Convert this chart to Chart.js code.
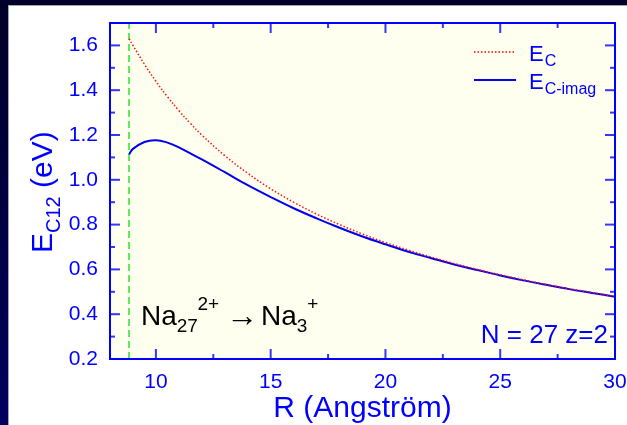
<!DOCTYPE html>
<html><head><meta charset="utf-8">
<script src="https://cdn.jsdelivr.net/npm/chart.js@4/dist/chart.umd.min.js"></script>
<style>html,body{margin:0;padding:0;background:#fff;overflow:hidden}</style>
</head><body>
<canvas id="c" width="627" height="425" style="display:block;width:627px;height:425px"></canvas>
<script>
// ---- data ----
const rValues      = [8.83, 9, 9.5, 10, 10.5, 11, 11.5, 12, 13, 14, 15, 16, 17, 18, 19, 20, 21, 22, 23, 24, 25, 26, 27, 28, 29, 30];
const ecValues     = [1.630, 1.600, 1.516, 1.440, 1.371, 1.309, 1.252, 1.200, 1.108, 1.029, 0.960, 0.900, 0.847, 0.800, 0.758, 0.720, 0.686, 0.655, 0.626, 0.600, 0.576, 0.554, 0.533, 0.514, 0.497, 0.480];
const ecImagValues = [1.113, 1.138, 1.169, 1.177, 1.166, 1.145, 1.118, 1.091, 1.034, 0.976, 0.923, 0.873, 0.828, 0.786, 0.747, 0.712, 0.679, 0.650, 0.622, 0.597, 0.573, 0.551, 0.531, 0.512, 0.495, 0.478];
const cutoffR = 8.83;
const cutoffY = [0.2, 1.7];
const xTicks = [10, 15, 20, 25, 30];
const xMinorTicks = [12.5, 17.5, 22.5, 27.5];
const yTicks = [0.2, 0.4, 0.6, 0.8, 1.0, 1.2, 1.4, 1.6];
const yMinorTicks = [0.3, 0.5, 0.7, 0.9, 1.1, 1.3, 1.5];
const seriesNames = ['E', 'E'];
const seriesSubs = ['C', 'C-imag'];

const FONT = "'Liberation Sans', Arial, Helvetica, sans-serif";
const BLUE = '#0000ff';

const toXY = (xs, ys) => xs.map((x, i) => ({x: x, y: ys[i]}));

const framePlugin = {
  id: 'frame',
  beforeDraw(chart) {
    const ctx = chart.ctx, a = chart.chartArea;
    ctx.save();
    ctx.fillStyle = '#ffffff';
    ctx.fillRect(0, 0, chart.width, chart.height);
    const g = ctx.createLinearGradient(0, 0, 0, chart.height);
    g.addColorStop(0, '#000026');
    g.addColorStop(1, '#00005e');
    ctx.fillStyle = g;
    ctx.fillRect(0, 0, 8, chart.height);
    ctx.fillStyle = '#00002a';
    ctx.fillRect(0, 0, chart.width, 5);
    ctx.fillStyle = '#a0a0bc';
    ctx.fillRect(8, 5, chart.width - 8, 1);
    ctx.fillRect(8, 5, 1, chart.height - 5);
    ctx.fillStyle = '#fffff0';
    ctx.fillRect(a.left, a.top, a.right - a.left, a.bottom - a.top);
    ctx.restore();
  },
  afterDraw(chart) {
    const ctx = chart.ctx, a = chart.chartArea;
    const xs = chart.scales.x, ys = chart.scales.y;
    ctx.save();
    ctx.strokeStyle = '#3535ff';
    ctx.lineWidth = 2;
    const tick = (x1, y1, x2, y2) => { ctx.beginPath(); ctx.moveTo(x1, y1); ctx.lineTo(x2, y2); ctx.stroke(); };
    xTicks.forEach(v => { const p = xs.getPixelForValue(v); tick(p, a.bottom, p, a.bottom - 10); tick(p, a.top, p, a.top + 10); });
    xMinorTicks.forEach(v => { const p = xs.getPixelForValue(v); tick(p, a.bottom, p, a.bottom - 5); tick(p, a.top, p, a.top + 5); });
    yTicks.forEach(v => { const p = ys.getPixelForValue(v); tick(a.left, p, a.left + 10, p); tick(a.right, p, a.right - 10, p); });
    yMinorTicks.forEach(v => { const p = ys.getPixelForValue(v); tick(a.left, p, a.left + 5, p); tick(a.right, p, a.right - 5, p); });
    ctx.strokeStyle = BLUE;
    ctx.lineWidth = 2;
    ctx.strokeRect(a.left, a.top, a.right - a.left, a.bottom - a.top);

    // legend
    ctx.lineWidth = 1.5;
    ctx.strokeStyle = '#ff0000';
    ctx.setLineDash([1.5, 2]);
    tick(474, 52, 516, 52);
    ctx.setLineDash([]);
    ctx.strokeStyle = '#0000ee';
    ctx.lineWidth = 2;
    tick(474, 80, 516, 80);
    ctx.fillStyle = BLUE;
    ctx.textBaseline = 'alphabetic';
    ctx.textAlign = 'left';
    [[61, 66], [89, 94]].forEach((b, i) => {
      ctx.font = '22px ' + FONT;
      ctx.fillText(seriesNames[i], 529, b[0]);
      const w = ctx.measureText(seriesNames[i]).width;
      ctx.font = '16px ' + FONT;
      ctx.fillText(seriesSubs[i], 529 + w + 1, b[1]);
    });

    // y title (rotated)
    ctx.save();
    ctx.translate(52, 253);
    ctx.rotate(-Math.PI / 2);
    ctx.fillStyle = BLUE;
    ctx.font = '30px ' + FONT;
    ctx.fillText('E', 0, 0);
    let w = ctx.measureText('E').width;
    ctx.font = '20px ' + FONT;
    ctx.fillText('C12', w, 8);
    w += ctx.measureText('C12').width;
    ctx.font = '30px ' + FONT;
    ctx.fillText(' (eV)', w, 0);
    ctx.restore();

    // x title
    ctx.fillStyle = BLUE;
    ctx.font = '30px ' + FONT;
    ctx.textAlign = 'center';
    ctx.fillText('R (Angstr\u00f6m)', (a.left + a.right) / 2, 417);

    // N = 27 z=2
    ctx.textAlign = 'right';
    ctx.font = '26px ' + FONT;
    ctx.fillText('N = 27 z=2', 608, 343);

    // reaction label
    ctx.textAlign = 'left';
    ctx.fillStyle = '#000000';
    let x = 141;
    ctx.font = '28px ' + FONT;
    ctx.fillText('Na', x, 325); x += ctx.measureText('Na').width;
    ctx.font = '19px ' + FONT;
    ctx.fillText('27', x, 332);
    const w27 = ctx.measureText('27').width;
    ctx.fillText('2+', x + w27 - 0.5, 310);
    ctx.font = '32px ' + FONT;
    ctx.fillText('\u2192', 226, 326);
    x = 261;
    ctx.font = '28px ' + FONT;
    ctx.fillText('Na', x, 325); x += ctx.measureText('Na').width;
    ctx.font = '19px ' + FONT;
    ctx.fillText('3', x, 332);
    ctx.fillText('+', x + ctx.measureText('3').width, 310);
    ctx.restore();
  }
};

new Chart(document.getElementById('c'), {
  type: 'line',
  data: {
    datasets: [
      {
        label: 'E_C',
        data: toXY(rValues, ecValues),
        borderColor: '#ff1010',
        borderWidth: 1.5,
        borderDash: [1.5, 2],
        pointRadius: 0,
        tension: 0.4,
        fill: false
      },
      {
        label: 'E_C-imag',
        data: toXY(rValues, ecImagValues),
        borderColor: '#0000ee',
        borderWidth: 2,
        pointRadius: 0,
        tension: 0.4,
        fill: false
      },
      {
        label: 'cutoff',
        data: toXY([cutoffR, cutoffR], cutoffY),
        borderColor: '#5ee85e',
        borderWidth: 2,
        borderDash: [7, 4],
        pointRadius: 0,
        fill: false
      }
    ]
  },
  options: {
    responsive: false,
    animation: false,
    devicePixelRatio: 1,
    layout: { padding: { left: 0, top: 23, right: 12, bottom: 0 } },
    plugins: { legend: { display: false }, tooltip: { enabled: false }, title: { display: false } },
    scales: {
      x: {
        type: 'linear', min: 8, max: 30,
        grid: { display: false, drawTicks: false },
        border: { display: false },
        ticks: { color: BLUE, font: { size: 21, family: FONT }, padding: 11, maxRotation: 0, autoSkip: false,
                 callback: v => String(v) },
        afterBuildTicks: s => { s.ticks = xTicks.map(v => ({ value: v })); },
        afterFit: s => { s.height = 66; s.paddingLeft = 0; s.paddingRight = 0; }
      },
      y: {
        type: 'linear', min: 0.2, max: 1.7,
        grid: { display: false, drawTicks: false },
        border: { display: false },
        ticks: { color: BLUE, font: { size: 21, family: FONT }, padding: 12, autoSkip: false,
                 callback: v => Number(v).toFixed(1) },
        afterBuildTicks: s => { s.ticks = yTicks.map(v => ({ value: v })); },
        afterFit: s => { s.width = 110; s.paddingTop = 0; s.paddingBottom = 0; }
      }
    }
  },
  plugins: [framePlugin]
});
</script>
</body></html>
